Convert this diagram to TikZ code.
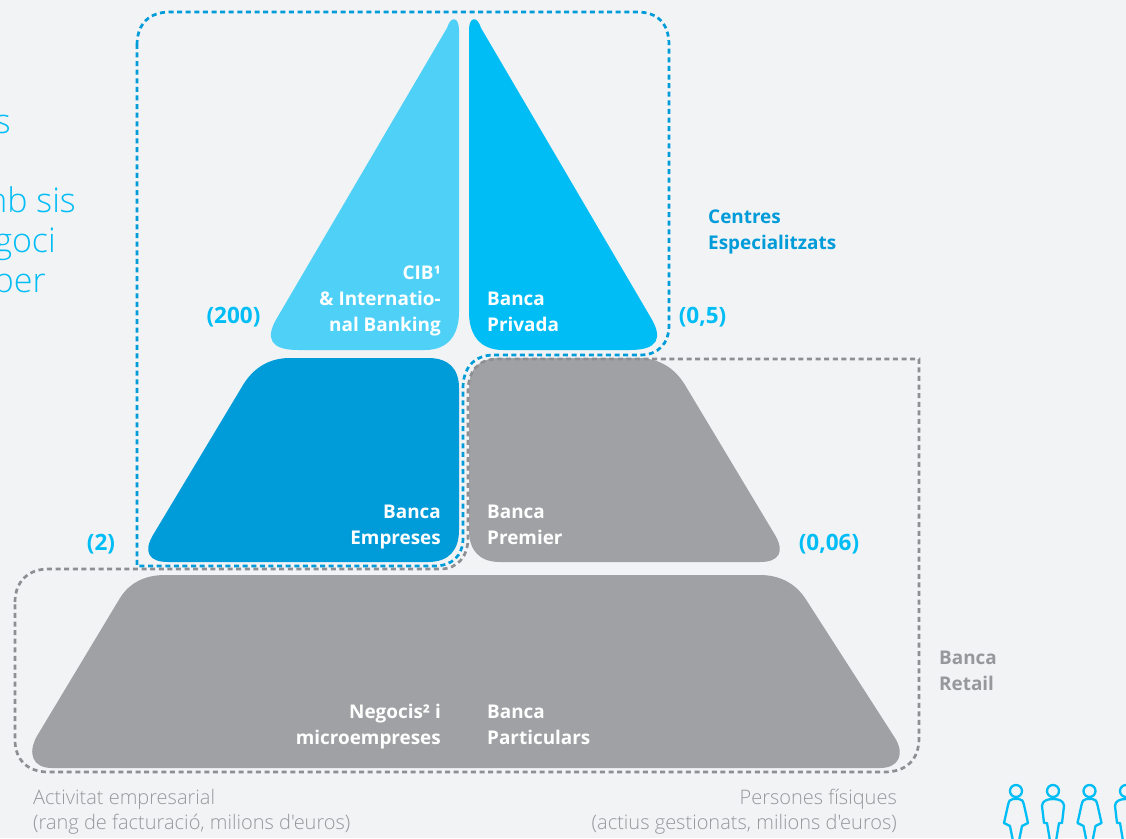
\documentclass[tikz,border=0pt]{standalone}
\usepackage{fontspec}
\setmainfont{Open Sans}
\newfontfamily\thinfont{Open Sans Light}
\definecolor{paperBg}{HTML}{F1F3F5}
\definecolor{lightBlue}{HTML}{4FD1F7}
\definecolor{midBlue}{HTML}{00BDF5}
\definecolor{darkBlue}{HTML}{009BD9}
\definecolor{greyFill}{HTML}{A0A1A4}
\definecolor{greyDash}{HTML}{8E8F92}
\definecolor{greyText}{HTML}{97989B}
\tikzset{
	segment/.style={inner sep=0pt, text=white, font=\bfseries\fontsize{18.9}{26}\selectfont},
	segmentL/.style={segment, anchor=base west, align=left},
	segmentR/.style={segment, anchor=base east, align=right},
	amount/.style={inner sep=0pt, text=midBlue, anchor=base, font=\bfseries\fontsize{22.5}{26}\selectfont},
	family/.style={inner sep=0pt, anchor=base west, align=left, font=\bfseries\fontsize{18.9}{26}\selectfont},
	axislabel/.style={inner sep=0pt, text=greyText, font=\thinfont\fontsize{20}{25}\selectfont},
	intro/.style={inner sep=0pt, anchor=base east, text=midBlue, font=\thinfont\fontsize{34}{40}\selectfont},
	dashblue/.style={draw=darkBlue, line width=2.7pt, dash pattern=on 5pt off 3.6pt},
	dashgrey/.style={draw=greyDash, line width=2.7pt, dash pattern=on 5pt off 3.6pt},
	person/.style={draw=midBlue, line width=2.3pt, line join=round},
	womanicon/.pic={
		\draw[person] (0,-6) circle (6);
		\draw[person] (-3,2) .. controls (-6,2) and (-7,4) .. (-8,8) -- (-12,26)
			-- (-6,29) -- (-3,44) -- (3,44) -- (6,29) -- (12,26) -- (8,8)
			.. controls (7,4) and (6,2) .. (3,2) -- cycle;
	},
	manicon/.pic={
		\draw[person] (0,-6) circle (6);
		\draw[person] (-11,9) .. controls (-11,4) and (-6,2) .. (0,2)
			.. controls (6,2) and (11,4) .. (11,9) -- (9,26) -- (6,26) -- (3,44)
			-- (-3,44) -- (-6,26) -- (-9,26) -- cycle;
	}
}
\begin{document}
\begin{tikzpicture}[x=1pt, y=-1pt]
	\path[clip] (0,0) rectangle (1126,838);
	\fill[paperBg] (0,0) rectangle (1126,838);

	% segments
	\fill[lightBlue] (447,28) -- (277,318) .. controls (265,338) and (270,350) .. (298,350) -- (425,350)
		.. controls (448,350) and (459,335) .. (459,312) -- (459,30) .. controls (459,17) and (451,15) .. (447,28) -- cycle;
	\fill[midBlue] (481,28) -- (651,318) .. controls (663,338) and (658,350) .. (630,350) -- (503,350)
		.. controls (480,350) and (469,335) .. (469,312) -- (469,30) .. controls (469,17) and (477,15) .. (481,28) -- cycle;
	\fill[darkBlue] (243,385) -- (153,535) .. controls (143,552) and (149,562) .. (168,562) -- (428,562)
		.. controls (449,562) and (459,550) .. (459,530) -- (459,388) .. controls (459,369) and (449,358) .. (428,358)
		-- (290,358) .. controls (270,358) and (254,367) .. (243,385) -- cycle;
	\fill[greyFill] (685,385) -- (775,535) .. controls (785,552) and (779,562) .. (760,562) -- (500,562)
		.. controls (479,562) and (469,550) .. (469,530) -- (469,388) .. controls (469,369) and (479,358) .. (500,358)
		-- (638,358) .. controls (658,358) and (674,367) .. (685,385) -- cycle;
	\fill[greyFill] (120,598) -- (37,736) .. controls (27,754) and (33,768) .. (52,768) -- (880,768)
		.. controls (899,768) and (905,754) .. (895,738) -- (805,598)
		.. controls (794,582) and (778,575) .. (760,575) -- (165,575) .. controls (146,575) and (130,582) .. (120,598) -- cycle;

	% dashed groups
	\draw[dashgrey] (15,602) .. controls (15,582) and (28,569) .. (48,569) -- (440,569)
		.. controls (458,569) and (468,556) .. (468,538) -- (468,392) .. controls (468,371) and (478,359) .. (498,359)
		-- (919,359) -- (919,738) .. controls (919,760) and (906,772) .. (884,772) -- (48,772)
		.. controls (28,772) and (15,760) .. (15,740) -- cycle;
	\draw[dashblue] (137,45) .. controls (137,24) and (149,12) .. (170,12) -- (637,12)
		.. controls (658,12) and (669,24) .. (669,45) -- (669,325) .. controls (669,344) and (658,355) .. (640,355)
		-- (494,355) .. controls (474,355) and (463,368) .. (463,388) -- (463,538)
		.. controls (463,556) and (452,566) .. (434,566) -- (137,566) -- cycle;

	% labels
	\node[segmentR] (cib) at (441,331) {CIB¹\\\& Internatio-\\nal Banking};
	\node[segmentL] (privada) at (487,331) {Banca\\Privada};
	\node[segmentR] (empreses) at (441,544) {Banca\\Empreses};
	\node[segmentL] (premier) at (487,544) {Banca\\Premier};
	\node[segmentR] (negocis) at (441,744) {Negocis² i\\microempreses};
	\node[segmentL] (particulars) at (487,744) {Banca\\Particulars};

	% amounts
	\node[amount] (a200) at (233.5,323) {(200)};
	\node[amount] (a05) at (702.5,323) {(0,5)};
	\node[amount] (a2) at (101,550) {(2)};
	\node[amount] (a006) at (829,550) {(0,06)};

	% groups and axes
	\node[family, text=darkBlue] (centres) at (708,249) {Centres\\Especialitzats};
	\node[family, text=greyText] (retail) at (939,690) {Banca\\Retail};
	\node[axislabel, anchor=base west, align=left] (activitat) at (33,829) {Activitat empresarial\\(rang de facturació, milions d'euros)};
	\node[axislabel, anchor=base east, align=right] (persones) at (897,829) {Persones físiques\\(actius gestionats, milions d'euros)};

	% text cut by the page edge
	\node[intro] (t1) at (11,133) {s};
	\node[intro] (t2) at (76,212) {mb sis};
	\node[intro] (t3) at (56,252) {goci};
	\node[intro] (t4) at (46,292) {per};

	% people
	\pic at (1016,797) {womanicon};
	\pic at (1053,797) {manicon};
	\pic at (1089.5,797) {womanicon};
	\pic at (1126,797) {manicon};
\end{tikzpicture}
\end{document}
